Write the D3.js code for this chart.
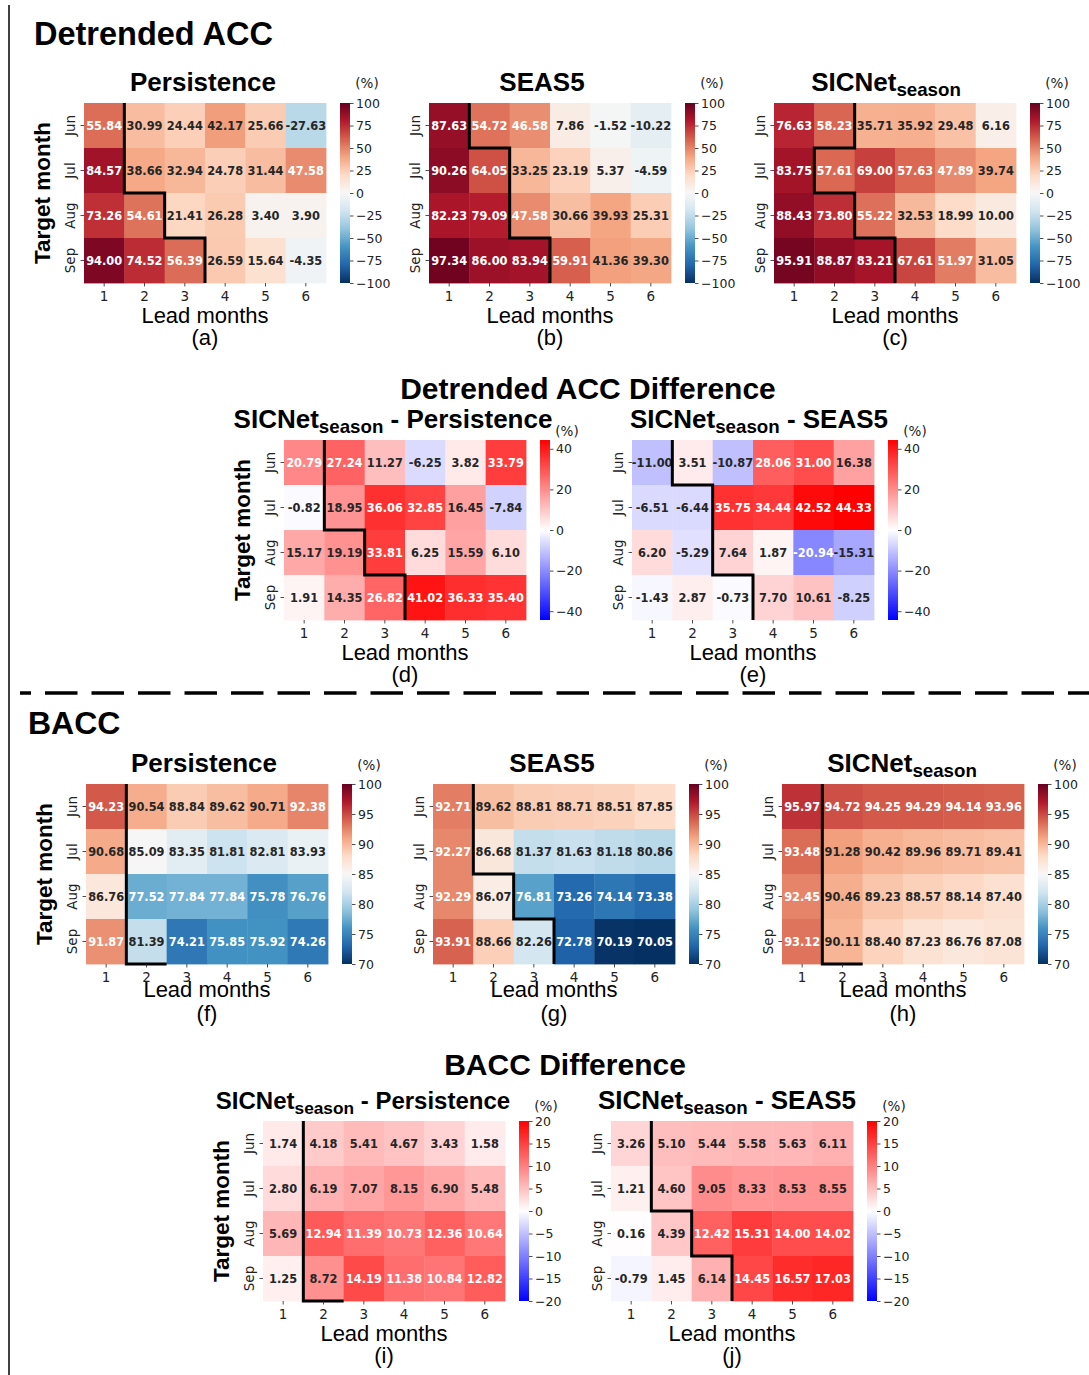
<!DOCTYPE html>
<html>
<head>
<meta charset="utf-8">
<script src="https://cdn.jsdelivr.net/npm/d3@7"></script>
<style>
  body { margin: 0; background: #fff; }
</style>
</head>
<body>
<div id="chart"></div>
<script>
// 軸のカテゴリ
const targetMonths = ["Jun", "Jul", "Aug", "Sep"];
const leadMonths = [1, 2, 3, 4, 5, 6];

// Detrended ACC (%)
const accPersistence = [
  [55.84, 30.99, 24.44, 42.17, 25.66, -27.63],
  [84.57, 38.66, 32.94, 24.78, 31.44, 47.58],
  [73.26, 54.61, 21.41, 26.28, 3.40, 3.90],
  [94.00, 74.52, 56.39, 26.59, 15.64, -4.35]
];
const accSeas5 = [
  [87.63, 54.72, 46.58, 7.86, -1.52, -10.22],
  [90.26, 64.05, 33.25, 23.19, 5.37, -4.59],
  [82.23, 79.09, 47.58, 30.66, 39.93, 25.31],
  [97.34, 86.00, 83.94, 59.91, 41.36, 39.30]
];
const accSicnet = [
  [76.63, 58.23, 35.71, 35.92, 29.48, 6.16],
  [83.75, 57.61, 69.00, 57.63, 47.89, 39.74],
  [88.43, 73.80, 55.22, 32.53, 18.99, 10.00],
  [95.91, 88.87, 83.21, 67.61, 51.97, 31.05]
];
const accDiffPersistence = [
  [20.79, 27.24, 11.27, -6.25, 3.82, 33.79],
  [-0.82, 18.95, 36.06, 32.85, 16.45, -7.84],
  [15.17, 19.19, 33.81, 6.25, 15.59, 6.10],
  [1.91, 14.35, 26.82, 41.02, 36.33, 35.40]
];
const accDiffSeas5 = [
  [-11.00, 3.51, -10.87, 28.06, 31.00, 16.38],
  [-6.51, -6.44, 35.75, 34.44, 42.52, 44.33],
  [6.20, -5.29, 7.64, 1.87, -20.94, -15.31],
  [-1.43, 2.87, -0.73, 7.70, 10.61, -8.25]
];

// BACC (%)
const baccPersistence = [
  [94.23, 90.54, 88.84, 89.62, 90.71, 92.38],
  [90.68, 85.09, 83.35, 81.81, 82.81, 83.93],
  [86.76, 77.52, 77.84, 77.84, 75.78, 76.76],
  [91.87, 81.39, 74.21, 75.85, 75.92, 74.26]
];
const baccSeas5 = [
  [92.71, 89.62, 88.81, 88.71, 88.51, 87.85],
  [92.27, 86.68, 81.37, 81.63, 81.18, 80.86],
  [92.29, 86.07, 76.81, 73.26, 74.14, 73.38],
  [93.91, 88.66, 82.26, 72.78, 70.19, 70.05]
];
const baccSicnet = [
  [95.97, 94.72, 94.25, 94.29, 94.14, 93.96],
  [93.48, 91.28, 90.42, 89.96, 89.71, 89.41],
  [92.45, 90.46, 89.23, 88.57, 88.14, 87.40],
  [93.12, 90.11, 88.40, 87.23, 86.76, 87.08]
];
const baccDiffPersistence = [
  [1.74, 4.18, 5.41, 4.67, 3.43, 1.58],
  [2.80, 6.19, 7.07, 8.15, 6.90, 5.48],
  [5.69, 12.94, 11.39, 10.73, 12.36, 10.64],
  [1.25, 8.72, 14.19, 11.38, 10.84, 12.82]
];
const baccDiffSeas5 = [
  [3.26, 5.10, 5.44, 5.58, 5.63, 6.11],
  [1.21, 4.60, 9.05, 8.33, 8.53, 8.55],
  [0.16, 4.39, 12.42, 15.31, 14.00, 14.02],
  [-0.79, 1.45, 6.14, 14.45, 16.57, 17.03]
];

// カラーバーの目盛り
const accTicks = [100, 75, 50, 25, 0, -25, -50, -75, -100];
const accDiffTicks = [40, 20, 0, -20, -40];
const baccTicks = [100, 95, 90, 85, 80, 75, 70];
const baccDiffTicks = [20, 15, 10, 5, 0, -5, -10, -15, -20];

// 黒い階段線: 各行で線の左にある列数 (Jun..Sep) + 下端での終点列
const stepsA = [1, 1, 2, 3, 3];
const stepsB = [1, 2, 2, 3, 3];
const stepsC = [2, 1, 2, 3, 3];
const stepsD = [1, 1, 2, 3, 3];
const stepsE = [1, 2, 2, 3, 3];
const stepsF = [1, 1, 1, 1, 2];
const stepsG = [1, 1, 2, 3, 3];
const stepsH = [1, 1, 1, 1, 2];
const stepsI = [1, 1, 1, 1, 2];
const stepsJ = [1, 1, 2, 3, 3];

const accDiffMax = 44.33;

// レイアウト
const W = 242, H = 180;
const titleFont = "'Liberation Sans', Arial, sans-serif";
const tickFont = "'DejaVu Sans', sans-serif";

const rdbu = ["#67001f", "#b2182b", "#d6604d", "#f4a582", "#fddbc7", "#f7f7f7",
              "#d1e5f0", "#92c5de", "#4393c3", "#2166ac", "#053061"];
const rdbuR = rdbu.slice().reverse();

function makeColor(cmap, vmin, vmax) {
  if (cmap === "RdBu_r") {
    return d3.scaleLinear()
      .domain(d3.range(11).map(i => vmin + (vmax - vmin) * i / 10))
      .range(rdbuR).interpolate(d3.interpolateRgb).clamp(true);
  }
  return d3.scaleLinear()
    .domain([vmin, (vmin + vmax) / 2, vmax])
    .range(["#0000ff", "#ffffff", "#ff0000"]).clamp(true);
}

// seaborn と同じ輝度判定で文字色を決める
function textColor(c) {
  const rgb = d3.rgb(c);
  const lin = v => { v /= 255; return v <= 0.03928 ? v / 12.92 : Math.pow((v + 0.055) / 1.055, 2.4); };
  const lum = 0.2126 * lin(rgb.r) + 0.7152 * lin(rgb.g) + 0.0722 * lin(rgb.b);
  return lum > 0.408 ? "#262626" : "#ffffff";
}

const SICNET = [{ t: "SICNet" }, { t: "season", sub: true }];

const panels = [
  { id: "a", data: accPersistence, title: [{ t: "Persistence" }], x: 84, y: 103, cmap: "RdBu_r", vmin: -100, vmax: 100, ticks: accTicks, steps: stepsA, ylabel: true, tdx: -2, tsize: 26, lead: 40, sub: 62, pct: -15 },
  { id: "b", data: accSeas5, title: [{ t: "SEAS5" }], x: 429, y: 103, cmap: "RdBu_r", vmin: -100, vmax: 100, ticks: accTicks, steps: stepsB, tdx: -8, tsize: 26, lead: 40, sub: 62, pct: -15 },
  { id: "c", data: accSicnet, title: SICNET, x: 774, y: 103, cmap: "RdBu_r", vmin: -100, vmax: 100, ticks: accTicks, steps: stepsC, tdx: -9, tsize: 26, lead: 40, sub: 62, pct: -15 },
  { id: "d", data: accDiffPersistence, title: SICNET.concat([{ t: " - Persistence" }]), x: 284, y: 440, cmap: "bwr", vmin: -accDiffMax, vmax: accDiffMax, ticks: accDiffTicks, steps: stepsD, ylabel: true, tdx: -12, tsize: 26, lead: 40, sub: 62, pct: -4 },
  { id: "e", data: accDiffSeas5, title: SICNET.concat([{ t: " - SEAS5" }]), x: 632, y: 440, cmap: "bwr", vmin: -accDiffMax, vmax: accDiffMax, ticks: accDiffTicks, steps: stepsE, tdx: 6, tsize: 26, lead: 40, sub: 62, pct: -4 },
  { id: "f", data: baccPersistence, title: [{ t: "Persistence" }], x: 86, y: 784, cmap: "RdBu_r", vmin: 70, vmax: 100, ticks: baccTicks, steps: stepsF, ylabel: true, tdx: -3, tsize: 26, lead: 33, sub: 57, pct: -14 },
  { id: "g", data: baccSeas5, title: [{ t: "SEAS5" }], x: 433, y: 784, cmap: "RdBu_r", vmin: 70, vmax: 100, ticks: baccTicks, steps: stepsG, tdx: -2, tsize: 26, lead: 33, sub: 57, pct: -14 },
  { id: "h", data: baccSicnet, title: SICNET, x: 782, y: 784, cmap: "RdBu_r", vmin: 70, vmax: 100, ticks: baccTicks, steps: stepsH, tdx: -1, tsize: 26, lead: 33, sub: 57, pct: -14 },
  { id: "i", data: baccDiffPersistence, title: SICNET.concat([{ t: " - Persistence" }]), x: 263, y: 1121, cmap: "bwr", vmin: -20, vmax: 20, ticks: baccDiffTicks, steps: stepsI, ylabel: true, tdx: -21, tsize: 24, lead: 40, sub: 62, pct: -10 },
  { id: "j", data: baccDiffSeas5, title: SICNET.concat([{ t: " - SEAS5" }]), x: 611, y: 1121, cmap: "bwr", vmin: -20, vmax: 20, ticks: baccDiffTicks, steps: stepsJ, tdx: -5, tsize: 26, lead: 40, sub: 62, pct: -10 }
];

const svg = d3.select("#chart").append("svg")
  .attr("width", 1089).attr("height", 1375);
const defs = svg.append("defs");

// 左端の縦線と区切りの破線
svg.append("line").attr("x1", 9).attr("x2", 9).attr("y1", 5).attr("y2", 1375)
  .attr("stroke", "#000").attr("stroke-width", 1.5);
svg.append("line").attr("x1", 20).attr("x2", 1089).attr("y1", 693).attr("y2", 693)
  .attr("stroke", "#000").attr("stroke-width", 3.5)
  .attr("stroke-dasharray", "32.5 14").attr("stroke-dashoffset", 21.5);

// セクション見出し
function heading(txt, x, y, size, anchor) {
  svg.append("text").attr("x", x).attr("y", y)
    .attr("text-anchor", anchor)
    .style("font-family", titleFont).style("font-weight", "bold")
    .style("font-size", size + "px").text(txt);
}
heading("Detrended ACC", 34, 45, 32.5, "start");
heading("Detrended ACC Difference", 588, 399, 30, "middle");
heading("BACC", 28, 734, 32, "start");
heading("BACC Difference", 565, 1075, 30, "middle");

panels.forEach(drawPanel);

function drawPanel(p) {
  const g = svg.append("g");
  const x = d3.scaleBand().domain(leadMonths).range([p.x, p.x + W]);
  const y = d3.scaleBand().domain(targetMonths).range([p.y, p.y + H]);
  const gx = d3.scaleLinear().domain([0, leadMonths.length]).range([p.x, p.x + W]);
  const gy = d3.scaleLinear().domain([0, targetMonths.length]).range([p.y, p.y + H]);
  const color = makeColor(p.cmap, p.vmin, p.vmax);

  const cells = p.data.flatMap((row, i) => row.map((v, j) => ({ m: targetMonths[i], l: leadMonths[j], v })));

  g.selectAll("rect.cell").data(cells).join("rect")
    .attr("class", "cell")
    .attr("x", d => x(d.l)).attr("y", d => y(d.m))
    .attr("width", x.bandwidth() + 0.4).attr("height", y.bandwidth() + 0.4)
    .attr("fill", d => color(d.v));

  g.selectAll("text.val").data(cells).join("text")
    .attr("class", "val")
    .attr("x", d => x(d.l) + x.bandwidth() / 2)
    .attr("y", d => y(d.m) + y.bandwidth() / 2)
    .attr("dy", "0.36em")
    .attr("text-anchor", "middle")
    .style("font-family", tickFont).style("font-weight", "bold")
    .style("font-size", "11.4px")
    .attr("fill", d => textColor(color(d.v)))
    .text(d => d.v.toFixed(2));

  // 階段線
  const pts = [];
  targetMonths.forEach((m, i) => { pts.push([p.steps[i], i]); pts.push([p.steps[i], i + 1]); });
  pts.push([p.steps[targetMonths.length], targetMonths.length]);
  g.append("path")
    .attr("d", d3.line().x(d => gx(d[0])).y(d => gy(d[1]))(pts))
    .attr("fill", "none").attr("stroke", "#000").attr("stroke-width", 3);

  // x軸
  const ax = g.append("g").attr("transform", `translate(0,${p.y + H})`)
    .call(d3.axisBottom(x).tickSize(3.5).tickPadding(4.5));
  ax.select(".domain").remove();
  ax.selectAll("line").attr("stroke", "#222").attr("stroke-width", 0.8);
  ax.selectAll("text").attr("fill", "#222")
    .style("font-family", tickFont).style("font-size", "13.5px");

  // y軸
  const ay = g.append("g").attr("transform", `translate(${p.x},0)`)
    .call(d3.axisLeft(y).tickSize(3.5));
  ay.select(".domain").remove();
  ay.selectAll("line").attr("stroke", "#222").attr("stroke-width", 0.8);
  ay.selectAll("text")
    .attr("x", null).attr("dy", null)
    .attr("text-anchor", "middle")
    .attr("transform", "translate(-9,0) rotate(-90)")
    .attr("fill", "#222")
    .style("font-family", tickFont).style("font-size", "13.5px");

  // カラーバー
  const cbx = p.x + 256;
  const grad = defs.append("linearGradient").attr("id", "grad-" + p.id)
    .attr("x1", 0).attr("x2", 0).attr("y1", 0).attr("y2", 1);
  d3.range(41).forEach(k => {
    const t = k / 40;
    grad.append("stop").attr("offset", t)
      .attr("stop-color", color(p.vmax - (p.vmax - p.vmin) * t));
  });
  g.append("rect").attr("x", cbx).attr("y", p.y).attr("width", 10).attr("height", H)
    .attr("fill", `url(#grad-${p.id})`);
  const cs = d3.scaleLinear().domain([p.vmin, p.vmax]).range([p.y + H, p.y]);
  const ac = g.append("g").attr("transform", `translate(${cbx + 10},0)`)
    .call(d3.axisRight(cs).tickValues(p.ticks).tickSize(3.5).tickPadding(2.5)
      .tickFormat(d => d < 0 ? "\u2212" + Math.abs(d) : String(d)));
  ac.select(".domain").remove();
  ac.selectAll("line").attr("stroke", "#222").attr("stroke-width", 0.8);
  ac.selectAll("text").attr("fill", "#222")
    .style("font-family", tickFont).style("font-size", "12.5px");

  g.append("text").attr("x", cbx + 27).attr("y", p.y + p.pct)
    .attr("text-anchor", "middle").attr("fill", "#222")
    .style("font-family", tickFont).style("font-size", "13.5px")
    .text("(%)");

  // タイトル
  const tt = g.append("text")
    .attr("x", p.x + W / 2 + p.tdx).attr("y", p.y - 12)
    .attr("text-anchor", "middle")
    .style("font-family", titleFont).style("font-weight", "bold")
    .style("font-size", p.tsize + "px");
  let shifted = false;
  p.title.forEach(part => {
    const ts = tt.append("tspan").text(part.t);
    if (part.sub) {
      ts.style("font-size", (p.tsize * 0.72) + "px").attr("dy", 5);
      shifted = true;
    } else if (shifted) {
      ts.attr("dy", -5);
      shifted = false;
    }
  });

  // 軸ラベル
  g.append("text").attr("x", p.x + W / 2).attr("y", p.y + H + p.lead)
    .attr("text-anchor", "middle")
    .style("font-family", titleFont).style("font-size", "22px")
    .text("Lead months");
  g.append("text").attr("x", p.x + W / 2).attr("y", p.y + H + p.sub)
    .attr("text-anchor", "middle")
    .style("font-family", titleFont).style("font-size", "22px")
    .text(`(${p.id})`);

  if (p.ylabel) {
    g.append("text")
      .attr("transform", `translate(${p.x - 34},${p.y + H / 2}) rotate(-90)`)
      .attr("text-anchor", "middle")
      .style("font-family", titleFont).style("font-weight", "bold")
      .style("font-size", "22.5px")
      .text("Target month");
  }
}
</script>
</body>
</html>
